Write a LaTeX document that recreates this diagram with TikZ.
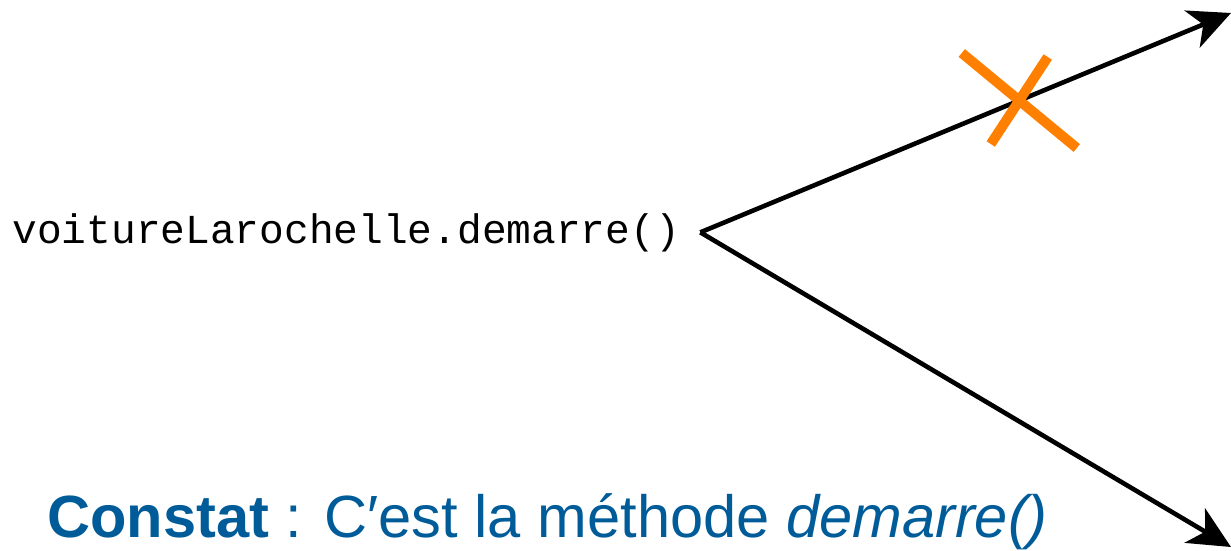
\documentclass[tikz,border=0pt]{standalone}
\usepackage{fontspec}
\setmainfont{Liberation Sans}
\setmonofont{Liberation Mono}
\usepackage{tikz}
\usetikzlibrary{arrows.meta, positioning, calc}
\usepackage{xcolor}
\definecolor{constblue}{RGB}{0,92,153}
\definecolor{crossorange}{RGB}{255,128,0}

\begin{document}
\begin{tikzpicture}[x=0.5pt, y=-0.5pt,
  callarrow/.style={-{Stealth[length=21pt, width=20pt, inset=6pt]}, line width=2.3pt, black},
  crossline/.style={crossorange, line width=5pt}]
  \useasboundingbox (0,0) rectangle (1231,551);
  % appel de la methode
  \node[anchor=base west, inner xsep=10pt, inner ysep=0pt] (call) at (-8,243)
    {\fontsize{20.6}{24}\selectfont\ttfamily voitureLarochelle.demarre()};
  \coordinate (up) at (1231,13);
  \coordinate (down) at (1231,547);
  \draw[callarrow] (call.east) -- (up) coordinate[pos=0.601] (hit);
  \draw[callarrow] (call.east) -- (down);
  % croix sur le premier appel
  \draw[crossline] ($(hit)+(-57.5,-47.5)$) -- ($(hit)+(57.5,47.5)$);
  \draw[crossline] ($(hit)+(28.5,-43.5)$) -- ($(hit)+(-28.5,43.5)$);
  \node[constblue, anchor=base west, inner sep=0pt] (constat) at (47,537)
    {\fontsize{29.8}{34}\selectfont\textbf{Constat} : C′est la méthode \textit{demarre()}};
\end{tikzpicture}
\end{document}
